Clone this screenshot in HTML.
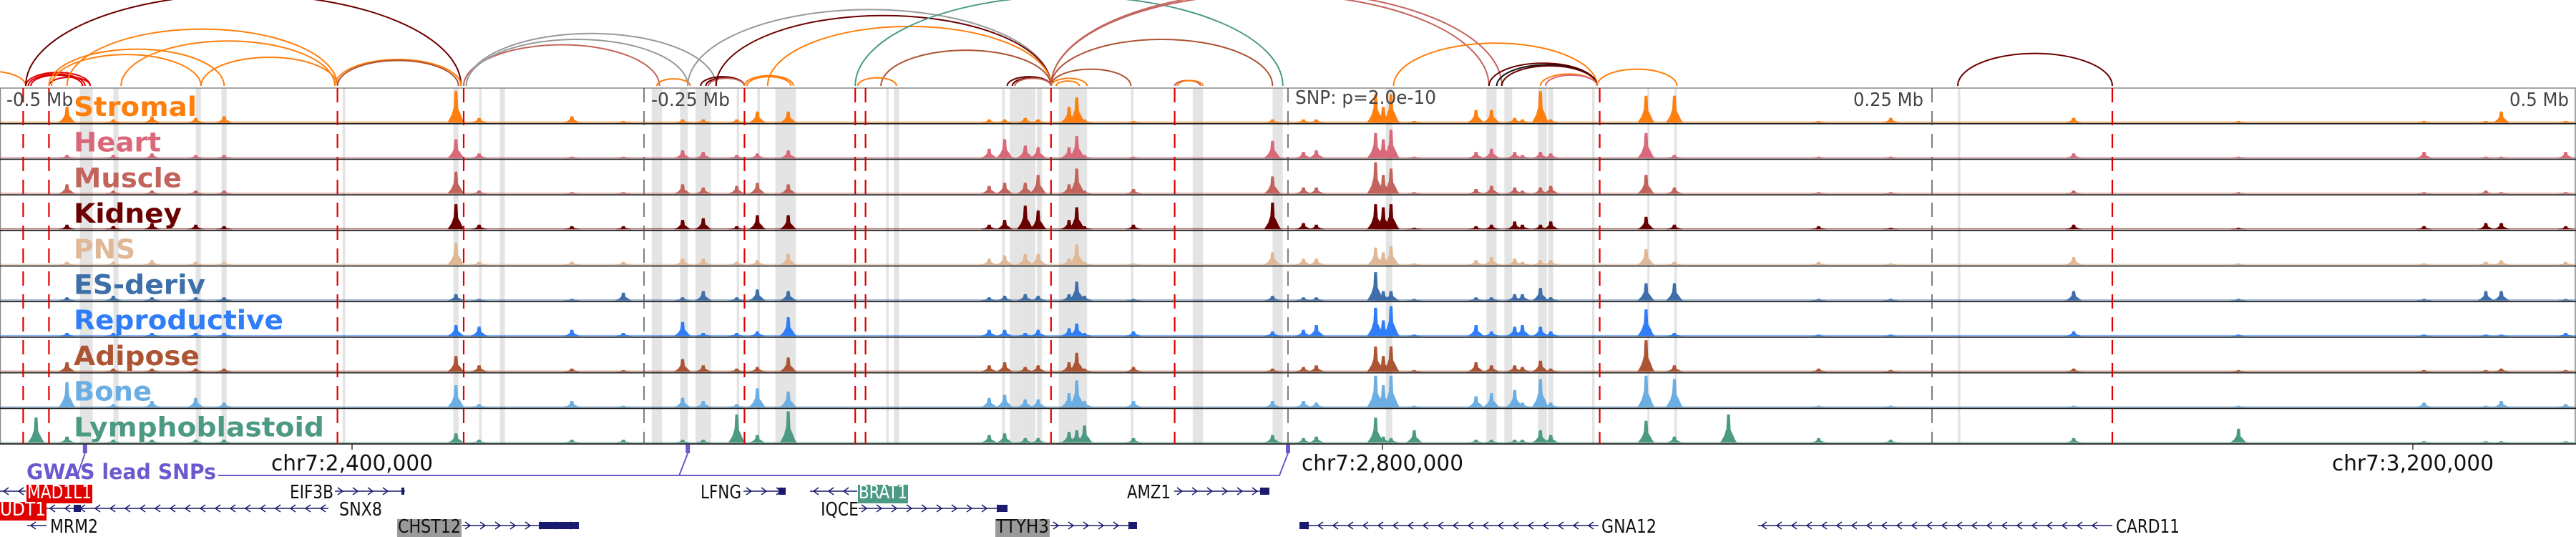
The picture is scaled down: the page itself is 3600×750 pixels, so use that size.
<!DOCTYPE html>
<html><head><meta charset="utf-8"><style>
html,body{margin:0;padding:0;background:#fff;}
svg{display:block;}
text{font-family:"Liberation Sans Narrow","DejaVu Sans Condensed","Liberation Sans",sans-serif;}
</style></head><body>
<svg id="fig" width="3600" height="750" viewBox="0 0 3600 750" xmlns="http://www.w3.org/2000/svg">
<rect x="0" y="0" width="3600" height="750" fill="#fff"/>
<g id="bands"></g>
<g id="signals"></g>
<g id="frames"></g>
<g id="vlines"></g>
<g id="arcs"></g>
<g id="labels"></g>
<g id="bottom"></g>
</svg>
<script>
// ---------- data (genomic positions in kb relative to lead SNP) ----------
const tissues = ["Stromal","Heart","Muscle","Kidney","PNS","ES-deriv","Reproductive","Adipose","Bone","Lymphoblastoid"];
const tissueColors = ["#ff7f0e","#d9687a","#c2645c","#6b0000","#e0b896","#3e6fa8","#2f7ef7","#ac5433","#6aaee3","#4c9a84"];
const peakKb = [-486,-474,-456,-441,-424,-413,-323,-314,-278,-258,-235,-227,-214,-206,-194,-116,-110,-102,-97,-85,-82,-79,-60,-6,6,11,34,37,40,49,73,79,88,91,98,102,139,150,171,206,234,305,369,441,465,471,496];
const stromal = [0,.5,.1,.2,.15,.2,1,.15,.2,.05,.1,.1,.1,.35,.35,.1,.1,.15,.1,.5,.8,.1,.05,.1,.1,.1,.9,.5,.9,.05,.4,.4,.15,.1,1,.1,.85,.85,0,.05,.15,.15,.05,.05,.05,.35,.05];
const heart = [0,.1,.1,.15,.1,.1,.6,.15,.05,.05,.25,.2,.1,.15,.25,.3,.6,.4,.35,.35,.7,.1,.05,.55,.2,.25,.8,.6,.9,.05,.2,.3,.2,.1,.2,.15,.8,.1,0,.05,.05,.15,.05,.2,.05,.05,.2];
const muscle = [0,.3,.1,.1,.1,.1,.7,.1,.05,.05,.3,.2,.25,.35,.3,.25,.35,.35,.6,.3,.8,.1,.15,.55,.2,.2,1,.6,.8,.05,.15,.25,.2,.1,.2,.25,.6,.2,0,.05,.05,.1,.05,.05,.1,.05,.05];
const kidney = [0,.15,.1,.2,.15,.1,.8,.15,.1,.1,.3,.35,.1,.45,.45,.15,.3,.75,.6,.3,.7,.1,.15,.85,.2,.15,.8,.7,.8,.05,.1,.15,.25,.15,.15,.25,.4,.15,0,.1,.05,.15,.05,.1,.2,.2,.1];
const pns = [0,.1,.1,.15,.1,.1,.7,.1,.1,.1,.2,.2,.1,.15,.35,.2,.3,.35,.35,.2,.65,.1,.05,.4,.2,.2,.55,.4,.6,.05,.15,.25,.2,.1,.15,.15,.5,.1,0,.1,.05,.25,.05,.05,.1,.15,.1];
const esDeriv = [0,.1,.15,.1,.1,.1,.2,.05,.05,.25,.1,.3,.1,.35,.3,.1,.15,.2,.15,.2,.6,.15,.05,.15,.1,.1,.9,.3,.3,.05,.1,.1,.2,.2,.4,.1,.55,.55,0,.05,.05,.3,.05,.05,.3,.3,.05];
const reproductive = [0,.1,.1,.1,.1,.1,.35,.3,.2,.1,.45,.1,.1,.15,.6,.2,.2,.1,.2,.25,.4,.1,.15,.15,.2,.35,.9,.5,.95,.05,.35,.15,.3,.35,.3,.15,.85,.1,0,.05,.05,.15,.05,.05,.05,.05,.1];
const adipose = [0,.3,.1,.1,.1,.1,.5,.2,.1,.05,.4,.2,.1,.15,.45,.2,.3,.15,.2,.3,.6,.1,.15,.1,.15,.2,.8,.5,.8,.05,.3,.2,.2,.15,.35,.1,1,.2,0,.1,.05,.1,.05,.05,.05,.1,.05];
const bone = [0,.8,.1,.2,.3,.15,.7,.1,.2,.05,.3,.2,.1,.6,.5,.3,.4,.25,.25,.45,.85,.2,.2,.2,.2,.15,1,.7,1,.05,.35,.45,.55,.15,.9,.15,1,.9,0,.05,.05,.05,.05,.15,.05,.2,.1];
const lymphoblastoid = [.8,.2,.1,.1,.1,.1,.3,.1,.1,.1,.1,.1,.9,.25,1,.25,.3,.15,.15,.35,.4,.55,.15,.25,.15,.2,.8,.2,.15,.4,.1,.1,.1,.1,.4,.25,.7,.2,.9,.15,.1,.15,.45,.05,.05,.05,.05];
const series = [stromal,heart,muscle,kidney,pns,esDeriv,reproductive,adipose,bone,lymphoblastoid];

const redLineKb = [-491,-481,-369,-320,-211,-168,-164,-92,-44,121,320];
const grayLineKb = [-250,0,250];
const bandStartKb = [-469,-456,-424,-414,-367,-324,-314,-306,-247,-236,-230,-214,-206,-199,-156,-153,-111,-108,-103,-97.5,-89,-61,-37,-6,38,77,84,97,101,118,139.5,150,260];
const bandEndKb   = [-464,-454,-422,-412,-366,-322,-313,-304,-243,-233,-224,-213,-205,-191,-155,-151,-110,-103,-98,-95.5,-78,-60,-33,-2,40.5,81,87,100.5,103,119,140.3,151,261];

const arcStartKb = [-517,-490,-489,-488,-481,-490,-480,-481,-474,-453,-422,-370,-369,-320,-319,-319,-245,-228,-226,-225,-211,-210,-233,-222,-202,-158,-167,-168,-92,-92,-92,-92,-92,-90,-109,-107,-106,-44,-43,41,78,81,83,98,100,120,260];
const arcEndKb   = [-490,-465,-467,-468,-465,-321,-422,-413,-369,-370,-369,-321,-322,-244,-233,-222,-232,-211,-211,-211,-192,-193,-92,-92,-92,-92,-152,-2,78,83,-61,-6,-78,-81,-92,-92,-92,-34,-33,120,120,120,120,120,120,151,320];
const arcTissue  = [0,10,10,10,10,3,0,0,0,0,0,0,7,2,11,11,0,3,3,2,0,0,11,3,0,7,0,9,2,2,7,7,0,0,3,3,2,2,0,0,3,12,3,0,1,0,3];
const arcColors = ["#ff7f0e","#d9687a","#c2645c","#6b0000","#e0b896","#3e6fa8","#2f7ef7","#ac5433","#6aaee3","#4c9a84","#e00000","#999999","#111111"];

// ---------- scales ----------
const NS = "http://www.w3.org/2000/svg";
const X0 = 1800, PXKB = 3.6;
function xs(kb){ return X0 + kb*PXKB; }
const TRACK_TOP = 123, TRACK_H = 49.7, NTR = 10;
const ARC_BASE = 120;
function trackTop(i){ return TRACK_TOP + i*TRACK_H; }
function yh(v){ return v*44; }
function mk(tag, attrs, parent){
  const el = document.createElementNS(NS, tag);
  for (const k in attrs) el.setAttribute(k, attrs[k]);
  parent.appendChild(el);
  return el;
}
const gB = document.getElementById('bands'), gS = document.getElementById('signals'),
      gF = document.getElementById('frames'), gV = document.getElementById('vlines'),
      gA = document.getElementById('arcs'), gL = document.getElementById('labels'),
      gBot = document.getElementById('bottom');
const BOT = trackTop(NTR);

// bands
bandStartKb.forEach((s,i)=>{
  const x1 = xs(s), x2 = xs(bandEndKb[i]);
  const r = mk('rect',{x:x1,y:TRACK_TOP,width:Math.max(3,x2-x1),height:BOT-TRACK_TOP,fill:'#e4e4e4'},gB);
  
  
});

// signals
series.forEach((vals,t)=>{
  const base = trackTop(t)+TRACK_H-1.5;
  const c = tissueColors[t];
  const bl = mk('rect',{x:0,y:base-1.5,width:3600,height:1.5,fill:c,opacity:0.6},gS);
  
  
  vals.forEach((v,i)=>{
    if (v<=0) return;
    const x = xs(peakKb[i]), h = yh(v);
    const pts = [[x-12,base],[x-9,base-h*0.12],[x-6,base-h*0.25],[x-3,base-h*0.5],[x-2,base-h],[x+2,base-h],[x+3,base-h*0.45],[x+6,base-h*0.3],[x+9,base-h*0.12],[x+12,base]];
    const p = mk('polygon',{points:pts.map(q=>q.join(',')).join(' '),fill:c},gS);
    
    
  });
});

// frames
mk('rect',{x:0.5,y:TRACK_TOP,width:3598.5,height:BOT-TRACK_TOP,fill:'none',stroke:'#888',"stroke-width":1.5},gF);
for (let i=1;i<=NTR;i++){
  const l = mk('line',{x1:0,x2:3600,y1:trackTop(i),y2:trackTop(i),stroke:'#222',"stroke-width":1.8},gF);
  
  
}

// vertical lines
redLineKb.forEach(k=>{
  const l = mk('line',{x1:xs(k),x2:xs(k),y1:TRACK_TOP,y2:BOT,stroke:'#e00000',"stroke-width":2.2,"stroke-dasharray":"20 12"},gV);
  
  
});
grayLineKb.forEach(k=>{
  const l = mk('line',{x1:xs(k),x2:xs(k),y1:TRACK_TOP,y2:BOT,stroke:'#555',"stroke-width":1.5,"stroke-dasharray":"20 12"},gV);
  
  
});

// arcs
arcStartKb.forEach((s,i)=>{
  const x1 = xs(s), x2 = xs(arcEndKb[i]);
  const w = x2-x1, ry = 0.21*w;
  const p = mk('path',{d:`M${x1},${ARC_BASE} A${w/2},${ry} 0 0 1 ${x2},${ARC_BASE}`,fill:'none',stroke:arcColors[arcTissue[i]],"stroke-width":2},gA);
  
  
});

// track labels
const labelW = [172,122,151,151,86,184,293,176,109,350];
tissues.forEach((n,i)=>{
  const t = mk('text',{x:103,y:trackTop(i)+39,fill:tissueColors[i],"font-size":37,"font-weight":"bold",textLength:labelW[i],lengthAdjust:"spacingAndGlyphs"},gL);
  t.textContent = n;
  
  
});

// scale labels
function txt(parent,x,y,s,opts,name){
  const t = mk('text',Object.assign({x:x,y:y},opts),parent);
  t.textContent = s;
  
  
  return t;
}
const sOpt = {fill:'#444',"font-size":26,lengthAdjust:"spacingAndGlyphs"};
txt(gL,9,148,"-0.5 Mb",Object.assign({textLength:93},sOpt),'scale-label');
txt(gL,910,148,"-0.25 Mb",Object.assign({textLength:110},sOpt),'scale-label');
txt(gL,1810,145,"SNP: p=2.0e-10",Object.assign({textLength:197},sOpt),'snp-pvalue-label');
txt(gL,2590,148,"0.25 Mb",Object.assign({textLength:98},sOpt),'scale-label');
txt(gL,3507,148,"0.5 Mb",Object.assign({textLength:83},sOpt),'scale-label');

// coordinate ticks
const coordTicks = [2400000,2800000,3200000];
const coordLabels = ["chr7:2,400,000","chr7:2,800,000","chr7:3,200,000"];
const snpPos = 2763333;
coordTicks.forEach((c,i)=>{
  const x = xs((c-snpPos)/1000);
  mk('line',{x1:x,x2:x,y1:BOT,y2:BOT+8,stroke:'#333',"stroke-width":1.5},gBot);
  txt(gBot,x,657,coordLabels[i],{fill:'#111',"font-size":30,"text-anchor":"middle",textLength:226,lengthAdjust:"spacingAndGlyphs"},'coordinate-label');
});

// GWAS SNPs
const gwasKb = [-467,-233,0];
const gc = "#6a5acd";
txt(gBot,37,669,"GWAS lead SNPs",{fill:gc,"font-size":29,"font-weight":"bold",textLength:265,lengthAdjust:"spacingAndGlyphs"},'gwas-label');
mk('polyline',{points:`305,664 ${xs(gwasKb[1])-12},664 ${xs(gwasKb[1])},633 ${xs(gwasKb[1])-12},664 ${xs(gwasKb[2])-12},664 ${xs(gwasKb[2])},633`,fill:'none',stroke:gc,"stroke-width":2},gBot);
mk('line',{x1:xs(gwasKb[0]),y1:633,x2:xs(gwasKb[0])-10,y2:662,stroke:gc,"stroke-width":2},gBot);
gwasKb.forEach(k=>{
  const r = mk('rect',{x:xs(k)-3,y:621,width:6,height:12,fill:gc},gBot);
  
  
});

// genes
const navy = "#1a1a6e";
function gene(x1,x2,y,dir,boxes,name){
  const g = mk('g',{},gBot);
  
  
  mk('line',{x1:x1,x2:x2,y1:y,y2:y,stroke:navy,"stroke-width":1.6},g);
  for (let x=x1+8;x<x2-6;x+=21){
    const d = dir>0 ? `M${x-4},${y-5} L${x+3},${y} L${x-4},${y+5}` : `M${x+4},${y-5} L${x-3},${y} L${x+4},${y+5}`;
    mk('path',{d:d,fill:'none',stroke:navy,"stroke-width":1.5},g);
  }
  (boxes||[]).forEach(b=>mk('rect',{x:b[0],y:y-5,width:b[1],height:10,fill:navy},g));
}
function glabel(x,y,s,w,name,bg,fg){
  if (bg){ const r = mk('rect',{x:x-1,y:y-19,width:w+2,height:26,fill:bg},gBot);   }
  txt(gBot,x,y,s,{fill:fg||'#111',"font-size":26,textLength:w,lengthAdjust:"spacingAndGlyphs"},name);
}
// row 1
gene(0,36,686,-1,[],'gene-mad1l1-line');
glabel(38,696,"MAD1L1",90,'gene-mad1l1','#e00000','#fff');
glabel(405,696,"EIF3B",61,'gene-eif3b');
gene(468,566,686,1,[[561,4]],'gene-eif3b-line');
glabel(979,696,"LFNG",57,'gene-lfng');
gene(1039,1098,686,1,[[1088,10]],'gene-lfng-line');
gene(1132,1198,686,-1,[],'gene-brat1-line');
glabel(1200,696,"BRAT1",68,'gene-brat1','#4c9a84','#fff');
glabel(1575,696,"AMZ1",61,'gene-amz1');
gene(1641,1774,686,1,[[1761,13]],'gene-amz1-line');
// row 2
glabel(0,720,"UDT1",64,'gene-nudt1','#e00000','#fff');
gene(65,459,710,-1,[[103,10]],'gene-snx8-line');
glabel(474,720,"SNX8",60,'gene-snx8');
glabel(1147,720,"IQCE",53,'gene-iqce');
gene(1200,1408,710,1,[[1393,15]],'gene-iqce-line');
// row 3
gene(38,65,734,-1,[],'gene-mrm2-line');
glabel(70,744,"MRM2",67,'gene-mrm2');
glabel(556,744,"CHST12",88,'gene-chst12','#9a9a9a','#111');
gene(646,809,734,1,[[753,56]],'gene-chst12-line');
glabel(1392,744,"TTYH3",74,'gene-ttyh3','#9a9a9a','#111');
gene(1468,1589,734,1,[[1577,12]],'gene-ttyh3-line');
gene(1816,2234,734,-1,[[1816,13]],'gene-gna12-line');
glabel(2238,744,"GNA12",77,'gene-gna12');
gene(2457,2952,734,-1,[],'gene-card11-line');
glabel(2957,744,"CARD11",89,'gene-card11');
</script>
</body></html>
